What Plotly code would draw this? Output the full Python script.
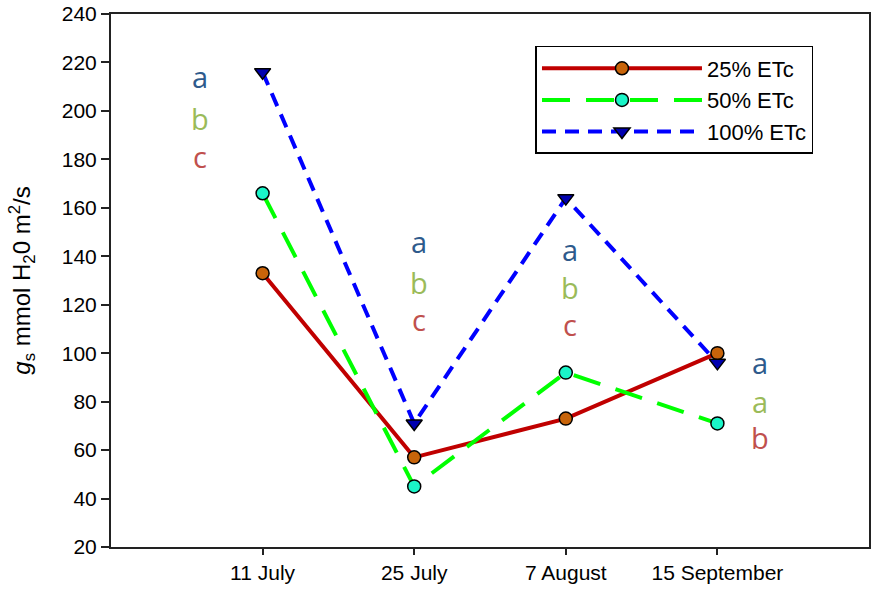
import plotly.graph_objects as go

# Sampling dates and stomatal conductance (gs) for each irrigation level
dates = ["11 July", "25 July", "7 August", "15 September"]
gs_25 = [133, 57, 73, 100]
gs_50 = [166, 45, 92, 71]
gs_100 = [216, 71, 164, 96]

# Significance letters per date (a, b, c from top to bottom)
letter_x = [-0.41, 1.03, 2.03, 3.28]
letter_text = [["a", "b", "c"], ["a", "b", "c"], ["a", "b", "c"], ["a", "a", "b"]]
letter_y = [[214, 197, 181], [146, 129, 114], [143, 127, 112], [96, 80, 65]]
letter_colors = ["#2E5A8C", "#9BBB59", "#C0504D"]

y_ticks = list(range(20, 241, 20))

x_pos = list(range(len(dates)))

base_font = "Liberation Sans, Arial, sans-serif"

fig = go.Figure()

fig.add_trace(go.Scatter(
    x=x_pos, y=gs_25, name="25% ETc", mode="lines+markers",
    line=dict(color="#C00000", width=4),
    marker=dict(symbol="circle", size=13, color="#C8640A",
                line=dict(color="black", width=1.5)),
))
fig.add_trace(go.Scatter(
    x=x_pos, y=gs_50, name="50% ETc", mode="lines+markers",
    line=dict(color="#00FF00", width=4, dash="28px,16px"),
    marker=dict(symbol="circle", size=13, color="#1AF5C8",
                line=dict(color="black", width=1.5)),
))
fig.add_trace(go.Scatter(
    x=x_pos, y=gs_100, name="100% ETc", mode="lines+markers",
    line=dict(color="#0000FF", width=4, dash="14px,9px"),
    marker=dict(symbol="triangle-down", size=14, color="#0000B0",
                line=dict(color="black", width=1.5)),
))

for xi, texts, ys in zip(letter_x, letter_text, letter_y):
    for t, yv, c in zip(texts, ys, letter_colors):
        fig.add_annotation(
            x=xi, y=yv, text=t, showarrow=False,
            font=dict(family="Open Sans, sans-serif", size=29, color=c),
            xanchor="center", yanchor="middle",
        )

fig.update_layout(
    width=873, height=589,
    margin=dict(l=111, r=2, t=13, b=42),
    plot_bgcolor="white", paper_bgcolor="white",
    showlegend=True,
    legend=dict(
        x=0.56, y=0.94, xanchor="left", yanchor="top",
        bordercolor="black", borderwidth=1.5, bgcolor="white",
        font=dict(family=base_font, size=22, color="black"),
        itemwidth=160, tracegroupgap=0,
    ),
    font=dict(family=base_font, color="black"),
)

fig.update_xaxes(
    range=[-1, 4], tickmode="array", tickvals=x_pos, ticktext=dates,
    showgrid=False, zeroline=False,
    showline=True, linecolor="#222222", linewidth=2, mirror=True,
    ticks="outside", ticklen=6, tickwidth=1.5, tickcolor="#222222",
    tickfont=dict(size=21, family=base_font),
)
fig.update_yaxes(
    range=[20, 240], tickmode="array", tickvals=y_ticks,
    showgrid=False, zeroline=False,
    showline=True, linecolor="#222222", linewidth=2, mirror=True,
    ticks="outside", ticklen=8, tickwidth=1.5, tickcolor="#222222",
    tickfont=dict(size=21, family=base_font),
    title=dict(
        text="<i>g</i><sub>s</sub> mmol H<sub>2</sub>0 m<sup>2</sup>/s",
        font=dict(size=24, family=base_font),
        standoff=24,
    ),
)

fig.write_html("out.html")
